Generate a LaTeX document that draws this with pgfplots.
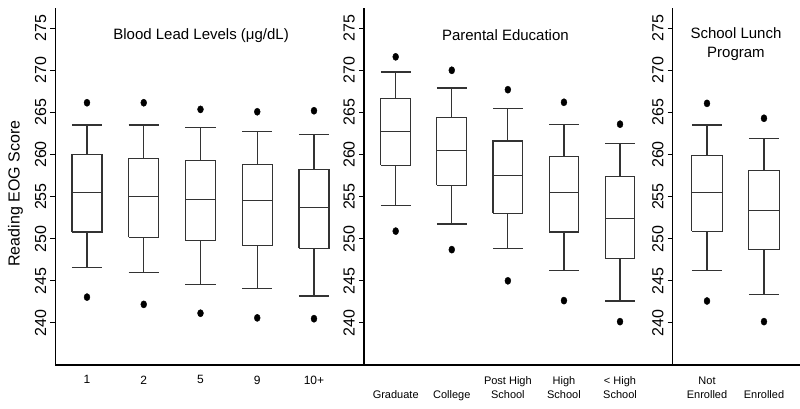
\documentclass[border=0pt]{standalone}
\usepackage{fontspec}
\setmainfont{Liberation Sans}
\usepackage{pgfplots}
\pgfplotsset{compat=1.18}
\pgfplotsset{
  panel/.style={
    scale only axis, height=357pt, ymin=235, ymax=277.4,
    axis x line=bottom, axis y line=left,
    axis line style={-, line width=1.5pt, black},
    ytick={240,245,...,275}, tick align=outside, major tick length=5pt,
    ytick style={black, line width=1pt},
    xtick style={draw=none},
    yticklabel style={inner sep=0pt, font=\fontsize{16}{16}\selectfont, xshift=-4pt, rotate=90, anchor=south},
    /pgf/number format/assume math mode=true,
    /pgf/number format/1000 sep={},
    clip=false,
  },
  boxline/.style={draw=black!80, line width=1.1pt, solid, no markers, line join=miter},
  outl/.style={only marks, mark=*, mark size=3.6pt, mark options={fill=black, draw=black, xscale=0.82}},
}
% pos, lower whisker, Q1, median, Q3, upper whisker, high outlier, low outlier
\newcommand{\bxp}[8]{%
  \pgfmathsetmacro{\bL}{#1-0.265}\pgfmathsetmacro{\bR}{#1+0.265}%
  \addplot[boxline] coordinates {(\bL,#3) (\bR,#3) (\bR,#5) (\bL,#5) (\bL,#3)};
  \addplot[boxline] coordinates {(\bL,#4) (\bR,#4)};
  \addplot[boxline] coordinates {(#1,#5) (#1,#6)};
  \addplot[boxline] coordinates {(\bL,#6) (\bR,#6)};
  \addplot[boxline] coordinates {(#1,#3) (#1,#2)};
  \addplot[boxline] coordinates {(\bL,#2) (\bR,#2)};
  \addplot[outl] coordinates {(#1,#7) (#1,#8)};
}
\begin{document}
\begin{tikzpicture}
% Panel 1: Blood lead levels
\begin{axis}[panel, width=308.5pt, at={(0pt,0pt)}, anchor=south west,
  xmin=0.445, xmax=5.881,
  xtick={1,2,3,4,5}, xticklabels={1,2,5,9,10+},
  xticklabel style={anchor=north, inner sep=0pt, yshift=-5.5pt, font=\fontsize{12}{14}\selectfont},
  every axis y label/.style={at={(axis description cs:0,0.48)}, anchor=center, xshift=-40pt, rotate=90, font=\fontsize{16}{16}\selectfont},
  ylabel={Reading EOG Score}]
\bxp{1}{246.6}{250.8}{255.5}{259.96}{263.5}{266.15}{243.06}
\bxp{2}{246.0}{250.15}{255.0}{259.5}{263.5}{266.15}{242.2}
\bxp{3}{244.6}{249.76}{254.7}{259.25}{263.2}{265.36}{241.15}
\bxp{4}{244.1}{249.2}{254.5}{258.8}{262.7}{265.08}{240.6}
\bxp{5}{243.2}{248.85}{253.7}{258.25}{262.4}{265.2}{240.5}
\node[font=\fontsize{15}{19}\selectfont] at (rel axis cs:0.472,0.924) {Blood Lead Levels (μg/dL)};
\end{axis}
% Panel 2: Parental education
\begin{axis}[panel, width=308.7pt, at={(308.5pt,0pt)}, anchor=south west,
  xmin=0.435, xmax=5.939,
  xtick={1,2,3,4,5},
  xticklabels={{\strut\\Graduate},{\strut\\College},{\strut Post High\\School},{\strut High\\School},{\strut < High\\School}},
  xticklabel style={anchor=north, align=center, inner sep=0pt, yshift=-5pt, font=\fontsize{11}{14}\selectfont}]
\bxp{1}{253.9}{258.7}{262.7}{266.7}{269.8}{271.6}{250.9}
\bxp{2}{251.75}{256.35}{260.5}{264.4}{267.9}{270.0}{248.7}
\bxp{3}{248.8}{253.0}{257.5}{261.6}{265.5}{267.7}{245.0}
\bxp{4}{246.2}{250.8}{255.5}{259.8}{263.6}{266.2}{242.65}
\bxp{5}{242.6}{247.6}{252.4}{257.4}{261.35}{263.6}{240.15}
\node[font=\fontsize{15}{19}\selectfont] at (rel axis cs:0.458,0.924) {Parental Education};
\end{axis}
% Panel 3: School lunch program
\begin{axis}[panel, width=127.3pt, at={(617.2pt,0pt)}, anchor=south west,
  xmin=0.398, xmax=2.632,
  xtick={1,2},
  xticklabels={{\strut Not\\Enrolled},{\strut\\Enrolled}},
  xticklabel style={anchor=north, align=center, inner sep=0pt, yshift=-5pt, font=\fontsize{11}{14}\selectfont}]
\bxp{1}{246.2}{250.9}{255.5}{259.85}{263.5}{266.07}{242.6}
\bxp{2}{243.4}{248.7}{253.3}{258.1}{261.95}{264.3}{240.15}
\node[font=\fontsize{15}{19}\selectfont, align=center] at (rel axis cs:0.497,0.9) {School Lunch\\Program};
\end{axis}
\pgfresetboundingbox
\path (-55.5pt,-44pt) rectangle (744.5pt,365pt);
\end{tikzpicture}
\end{document}
